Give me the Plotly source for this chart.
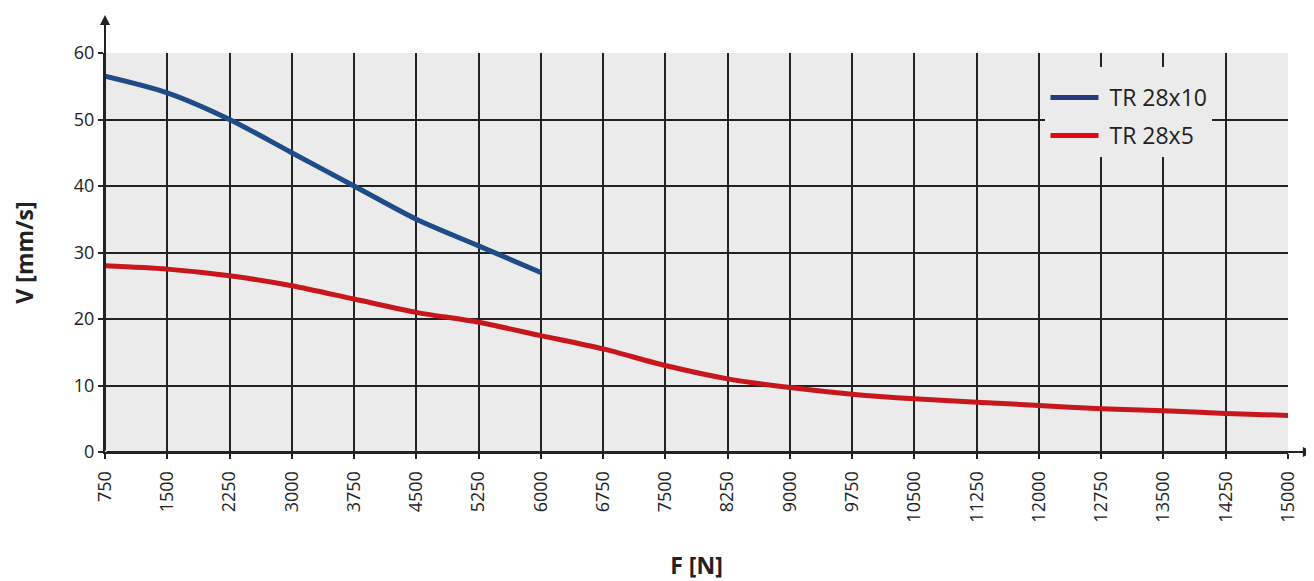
#!/usr/bin/env python3

import plotly.graph_objects as go

# Force values [N]
force_10 = [750, 1500, 2250, 3000, 3750, 4500, 5250, 6000]
force_5 = [750, 1500, 2250, 3000, 3750, 4500, 5250, 6000, 6750, 7500,
           8250, 9000, 9750, 10500, 11250, 12000, 12750, 13500, 14250, 15000]

# Speed values [mm/s]
speed_10 = [56.5, 54, 50, 45, 40, 35, 31, 27]
speed_5 = [28, 27.5, 26.5, 25, 23, 21, 19.5, 17.5, 15.5, 13,
           11, 9.7, 8.7, 8, 7.5, 7, 6.5, 6.2, 5.8, 5.5]

x_ticks = list(range(750, 15001, 750))
y_ticks = [0, 10, 20, 30, 40, 50, 60]

names = ["TR 28x10", "TR 28x5"]
line_colors = ["#1f4b86", "#c8161d"]
legend_colors = ["#243a7c", "#e30613"]

grid_col = "#222222"
plot_bg = "#ebebeb"

fig = go.Figure()

for xs, ys, col in [(force_10, speed_10, line_colors[0]), (force_5, speed_5, line_colors[1])]:
    fig.add_trace(go.Scatter(
        x=xs, y=ys, mode="lines",
        line=dict(color=col, width=5, shape="spline", smoothing=0.8),
        showlegend=False, hoverinfo="x+y",
    ))

# Legend entries (separate so they can have their own colours)
for i, (name, col) in enumerate(zip(names, legend_colors)):
    fig.add_trace(go.Scatter(
        x=[None], y=[None], mode="lines", name="\u00a0" + name,
        line=dict(color=col, width=5), legendgroup=f"g{i}",
    ))

# Axis arrows
fig.add_annotation(x=0, y=1.095, ax=0, ay=0, xref="x domain", yref="y domain",
                   axref="x domain", ayref="y domain", text="", showarrow=True,
                   arrowhead=2, arrowsize=1, arrowwidth=2, arrowcolor=grid_col)
fig.add_annotation(x=1.021, y=0, ax=0, ay=0, xref="x domain", yref="y domain",
                   axref="x domain", ayref="y domain", text="", showarrow=True,
                   arrowhead=2, arrowsize=1, arrowwidth=2, arrowcolor=grid_col)

fig.update_layout(
    width=1306, height=573,
    margin=dict(l=97, r=26, t=45, b=129),
    paper_bgcolor="white",
    plot_bgcolor=plot_bg,
    font=dict(family="Open Sans", color="#222222", size=18),
    legend=dict(
        x=0.795, y=0.965, xanchor="left", yanchor="top",
        bgcolor=plot_bg, borderwidth=0,
        font=dict(size=23, color="#222222"),
        title=dict(text="\u00a0", font=dict(size=7)),
        itemwidth=48, tracegroupgap=5,
        traceorder="grouped",
    ),
    xaxis=dict(
        range=[750, 15000], tickmode="array", tickvals=x_ticks,
        ticktext=[str(v) for v in x_ticks], tickangle=-90,
        showgrid=True, gridcolor=grid_col, gridwidth=2,
        showline=True, linecolor=grid_col, linewidth=2,
        ticks="outside", ticklen=5, tickcolor=grid_col, tickwidth=2,
        ticklabelstandoff=5,
        zeroline=False, automargin=False,
        title=dict(text="<b>F [N]</b>", font=dict(size=23), standoff=39),
    ),
    yaxis=dict(
        range=[0, 60], tickmode="array", tickvals=y_ticks,
        showgrid=True, gridcolor=grid_col, gridwidth=2,
        showline=True, linecolor=grid_col, linewidth=2,
        ticks="outside", ticklen=5, tickcolor=grid_col, tickwidth=2,
        zeroline=False, automargin=False,
        title=dict(text="<b>V [mm/s]</b>", font=dict(size=23), standoff=37),
    ),
)

fig.write_html("out.html")
